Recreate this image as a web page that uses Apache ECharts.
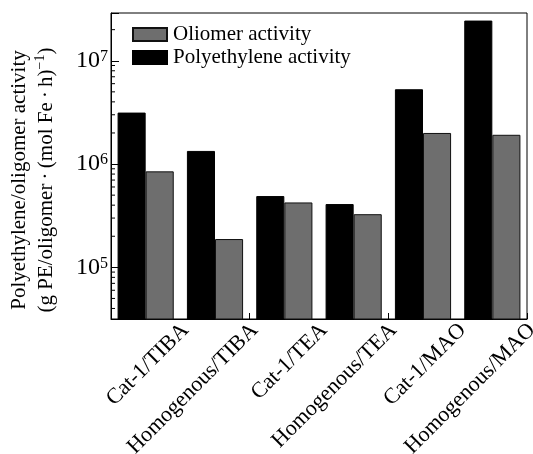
<!DOCTYPE html>
<html>
<head>
<meta charset="utf-8">
<script src="https://cdn.jsdelivr.net/npm/echarts@6/dist/echarts.min.js"></script>
<style>html,body{margin:0;padding:0;background:#fff}#c{width:533px;height:454px}</style>
</head>
<body>
<div id="c"></div>
<script>
var categories = ['Cat-1/TIBA', 'Homogenous/TIBA', 'Cat-1/TEA', 'Homogenous/TEA', 'Cat-1/MAO', 'Homogenous/MAO'];
var polyethyleneActivity = [3.15e6, 1.34e6, 4.9e5, 4.1e5, 5.3e6, 2.45e7];
var oligomerActivity = [8.5e5, 1.88e5, 4.25e5, 3.27e5, 2.0e6, 1.92e6];
var yMin = 31623, yMax = 2.9e7;
var minorTickValues = [4e4, 5e4, 6e4, 7e4, 8e4, 9e4,
  2e5, 3e5, 4e5, 5e5, 6e5, 7e5, 8e5, 9e5,
  2e6, 3e6, 4e6, 5e6, 6e6, 7e6, 8e6, 9e6, 2e7];

var FONT = 'Liberation Serif';
var chart = echarts.init(document.getElementById('c'), null, {renderer: 'canvas'});
var option = {
  animation: false,
  textStyle: {fontFamily: FONT, color: '#000'},
  grid: {left: 111, right: 6, top: 13, bottom: 135, show: true, borderColor: '#000', borderWidth: 1,
    backgroundColor: 'transparent', outerBoundsMode: 'none', containLabel: false},
  legend: {
    orient: 'vertical', left: 127, top: 19, itemWidth: 34, itemHeight: 13, itemGap: 2,
    icon: 'rect',
    data: ['Oliomer activity', 'Polyethylene activity'],
    textStyle: {fontFamily: FONT, fontSize: 21, lineHeight: 21, color: '#000', padding: [0, 0, 0, 1]}
  },
  xAxis: [{
    type: 'category', data: categories, gridIndex: 0,
    axisLine: {show: true, lineStyle: {color: '#000', width: 1}},
    axisTick: {show: true, inside: true, length: 6, lineStyle: {color: '#000'}},
    axisLabel: {show: false}
  }, {
    type: 'value', min: 0, max: 6, interval: 1, position: 'bottom', gridIndex: 0,
    axisLine: {show: false}, axisTick: {show: false}, splitLine: {show: false},
    axisLabel: {
      show: true, rotate: 45, margin: 3, fontFamily: FONT, fontSize: 22, color: '#000',
      verticalAlign: 'top', lineHeight: 14,
      formatter: function (v) { return v >= 1 ? categories[v - 1] : ''; }
    }
  }],
  yAxis: {
    type: 'log', min: yMin, max: yMax, logBase: 10,
    name: '{a|Polyethylene/oligomer activity}\n{a|(g PE/oligomer\u2009·\u2009(mol Fe\u2009·\u2009h)}{s|−1}{a|)}',
    nameLocation: 'middle', nameGap: 51, nameRotate: 90,
    nameTextStyle: {
      padding: [0, 28, 0, 0],
      rich: {
        a: {fontFamily: FONT, fontSize: 21, lineHeight: 27, color: '#000'},
        s: {fontFamily: FONT, fontSize: 14, lineHeight: 18, verticalAlign: 'top', color: '#000'}
      }
    },
    axisLine: {show: true, lineStyle: {color: '#000'}},
    axisTick: {show: true, inside: true, length: 8, lineStyle: {color: '#000'}},
    splitLine: {show: false},
    axisLabel: {
      margin: 3,
      formatter: function (v) {
        var e = Math.log10(v);
        if (Math.abs(e - Math.round(e)) > 1e-6) return '';
        return '{b|10}{s|' + Math.round(e) + '}';
      },
      rich: {
        b: {fontFamily: FONT, fontSize: 24, lineHeight: 24, color: '#000'},
        s: {fontFamily: FONT, fontSize: 16, lineHeight: 14, verticalAlign: 'top', color: '#000'}
      }
    }
  },
  series: [{
    name: 'Polyethylene activity', type: 'bar', data: polyethyleneActivity,
    barGap: '0%', barCategoryGap: '19%',
    itemStyle: {color: '#000', borderColor: '#000', borderWidth: 1}
  }, {
    name: 'Oliomer activity', type: 'bar', data: oligomerActivity,
    barGap: '0%', barCategoryGap: '19%',
    itemStyle: {color: '#6e6e6e', borderColor: '#111', borderWidth: 1}
  }, {
    name: 'minor ticks', type: 'custom', silent: true, z: 5,
    data: minorTickValues.map(function (v) { return [0, v]; }),
    encode: {x: 0, y: 1},
    renderItem: function (params, api) {
      var p = api.coord([api.value(0), api.value(1)]);
      var x0 = params.coordSys.x;
      return {type: 'line', shape: {x1: x0, y1: p[1], x2: x0 + 4, y2: p[1]},
        style: {stroke: '#000', lineWidth: 1}};
    }
  }]
};
chart.setOption(option);
</script>
</body>
</html>
